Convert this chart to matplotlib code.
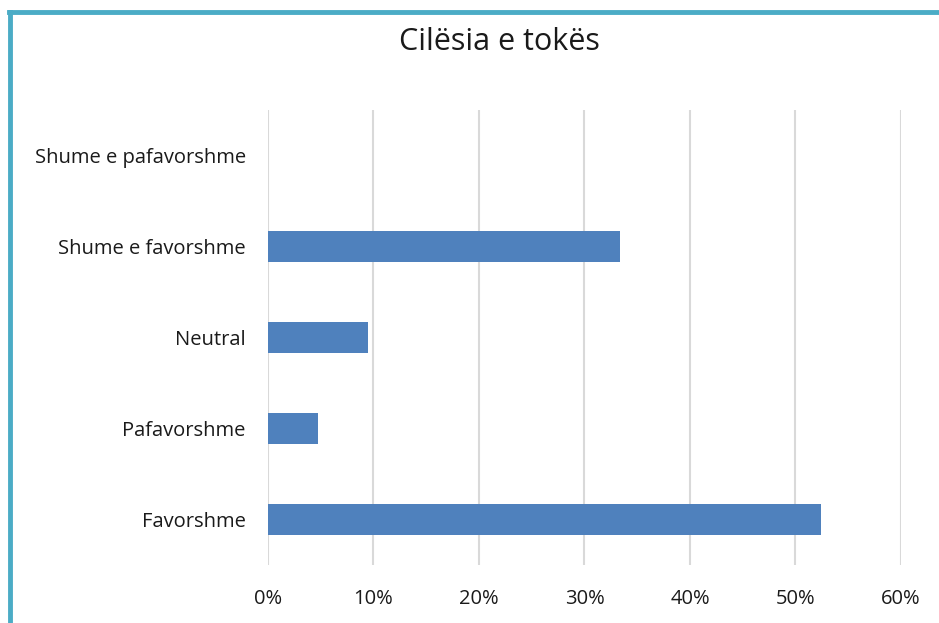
import matplotlib.pyplot as plt
from matplotlib.lines import Line2D
from matplotlib.ticker import PercentFormatter

# data
categories = ['Favorshme', 'Pafavorshme', 'Neutral', 'Shume e favorshme', 'Shume e pafavorshme']
values = [52.38, 4.76, 9.52, 33.33, 0.0]
ticks = [0, 10, 20, 30, 40, 50, 60]

plt.rcParams['font.family'] = ['Open Sans', 'DejaVu Sans']

fig = plt.figure(figsize=(9.39, 6.23), dpi=100)
ax = fig.add_axes([0.2854, 0.0931, 0.6741, 0.7303])

ax.barh(range(len(categories)), values, height=0.35, color='#4F81BD',
        linewidth=0, zorder=3)

ax.set_xlim(0, 60)
ax.set_ylim(-0.5, len(categories) - 0.5)
ax.set_xticks(ticks)
ax.xaxis.set_major_formatter(PercentFormatter(decimals=0))
ax.set_yticks(range(len(categories)))
ax.set_yticklabels(categories)
ax.tick_params(axis='both', length=0, labelsize=14.5, colors='#1a1a1a')
ax.tick_params(axis='x', pad=17)
ax.tick_params(axis='y', pad=16)

ax.grid(axis='x', color='#D9D9D9', linewidth=1.5, zorder=0)
for s in ax.spines.values():
    s.set_visible(False)

fig.text(0.532, 0.932, 'Cilësia e tokës', ha='center', va='center',
         fontsize=22, color='#1a1a1a')

# teal frame on left and top
fig.add_artist(Line2D([0.0107, 0.0107], [0.0, 0.981], color='#4BACC6',
                      linewidth=3.5, transform=fig.transFigure))
fig.add_artist(Line2D([0.0095, 1.0], [0.981, 0.981], color='#4BACC6',
                      linewidth=3.5, transform=fig.transFigure))

fig.savefig('out.png', dpi=100)
